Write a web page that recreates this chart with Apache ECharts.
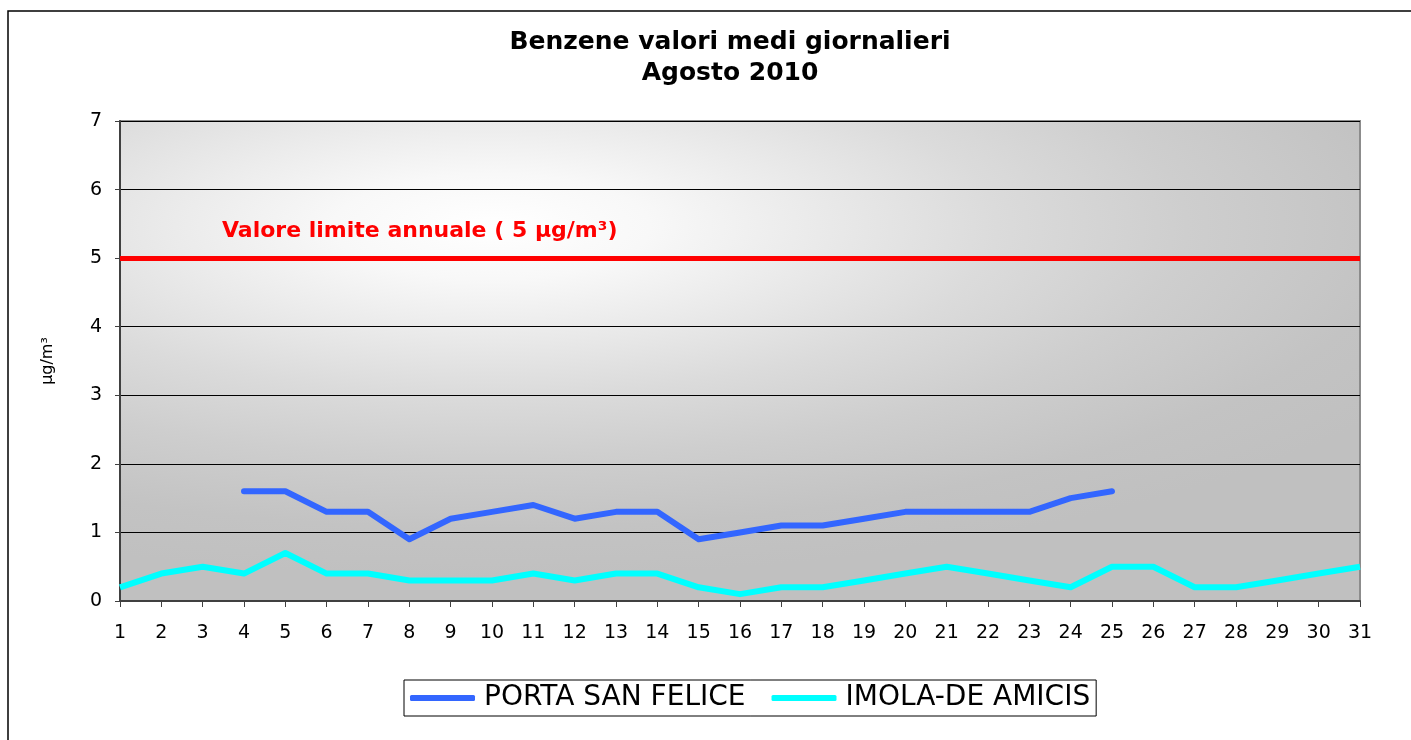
<!DOCTYPE html>
<html>
<head>
<meta charset="utf-8">
<script src="https://cdn.jsdelivr.net/npm/echarts@6/dist/echarts.min.js"></script>
<style>
  html, body { margin: 0; padding: 0; background: #fff; }
  #chart { width: 1411px; height: 740px; }
</style>
</head>
<body>
<div id="chart"></div>
<script>
// giorni di agosto
const days = [];
for (var d = 1; d <= 31; d++) days.push(String(d));

// valori medi giornalieri (µg/m³)
const portaSanFelice = [null, null, null, 1.6, 1.6, 1.3, 1.3, 0.9, 1.2, 1.3, 1.4, 1.2, 1.3, 1.3, 0.9, 1.0,
  1.1, 1.1, 1.2, 1.3, 1.3, 1.3, 1.3, 1.5, 1.6, null, null, null, null, null, null];
const imolaDeAmicis = [0.2, 0.4, 0.5, 0.4, 0.7, 0.4, 0.4, 0.3, 0.3, 0.3, 0.4, 0.3, 0.4, 0.4, 0.2, 0.1,
  0.2, 0.2, 0.3, 0.4, 0.5, 0.4, 0.3, 0.2, 0.5, 0.5, 0.2, 0.2, 0.3, 0.4, 0.5];
const limiteAnnuale = 5;

const font = '"DejaVu Sans", Arial, sans-serif';

var chart = echarts.init(document.getElementById('chart'));

chart.setOption({
  animation: false,
  backgroundColor: '#fff',
  title: {
    text: 'Benzene valori medi giornalieri\nAgosto 2010',
    left: 725,
    top: 22,
    textAlign: 'center',
    textStyle: { fontFamily: font, fontSize: 25, fontWeight: 'bold', color: '#000', lineHeight: 31 }
  },
  grid: {
    left: 120, top: 121, right: 51, bottom: 139,
    show: true, borderColor: '#8c8c8c', borderWidth: 2, backgroundColor: 'transparent'
  },
  graphic: [
    {
      // sfondo area grafico
      type: 'rect', left: 120, top: 121, z: -10, scaleX: 3,
      shape: { x: 0, y: 0, width: 413, height: 480 },
      style: {
        fill: {
          type: 'radial', x: 0.3, y: 0.22, r: 0.85,
          colorStops: [
            { offset: 0, color: '#ffffff' },
            { offset: 0.15, color: '#f8f8f8' },
            { offset: 0.3, color: '#ebebeb' },
            { offset: 0.48, color: '#dbdbdb' },
            { offset: 0.66, color: '#cecece' },
            { offset: 0.86, color: '#c3c3c3' },
            { offset: 1, color: '#c0c0c0' }
          ]
        }
      }
    },
    {
      type: 'rect', z: -20,
      shape: { x: 8, y: 11, width: 1420, height: 760 },
      style: { fill: 'none', stroke: '#000', lineWidth: 1.5 }
    },
    {
      type: 'text', left: 222, top: 220,
      style: { text: 'Valore limite annuale ( 5 µg/m³)', fill: '#ff0000', font: 'bold 22px ' + font }
    }
  ],
  legend: {
    left: 404, top: 680,
    padding: [4, 6, 4, 6],
    itemGap: 26,
    itemWidth: 65, itemHeight: 6,
    icon: 'roundRect',
    borderColor: '#000', borderWidth: 1,
    textStyle: { fontFamily: font, fontSize: 28, color: '#000', padding: [0, 0, 0, 4] },
    data: ['PORTA SAN FELICE', 'IMOLA-DE AMICIS']
  },
  xAxis: {
    type: 'category',
    data: days,
    boundaryGap: false,
    axisLine: { lineStyle: { color: '#404040', width: 2 } },
    axisTick: { show: true, length: 6, lineStyle: { color: '#404040', width: 1 } },
    axisLabel: { fontFamily: font, fontSize: 19, color: '#000', margin: 23, interval: 0 },
    splitLine: { show: false }
  },
  yAxis: {
    type: 'value',
    min: 0, max: 7, interval: 1,
    name: 'µg/m³',
    nameLocation: 'middle',
    nameRotate: 90,
    nameGap: 64,
    nameTextStyle: { fontFamily: font, fontSize: 16, color: '#000' },
    axisLine: { show: true, lineStyle: { color: '#404040', width: 2 } },
    axisTick: { show: true, length: 5, lineStyle: { color: '#404040' } },
    axisLabel: { fontFamily: font, fontSize: 19, color: '#000', margin: 18 },
    splitLine: { lineStyle: { color: '#000', width: 1 } }
  },
  series: [
    {
      name: 'PORTA SAN FELICE',
      type: 'line',
      data: portaSanFelice,
      symbol: 'none',
      color: '#3366ff',
      lineStyle: { width: 6, color: '#3366ff', cap: 'round', join: 'round' },
      markLine: {
        silent: true,
        symbol: 'none',
        label: { show: false },
        lineStyle: { color: '#ff0000', width: 5, type: 'solid' },
        data: [{ yAxis: limiteAnnuale }]
      }
    },
    {
      name: 'IMOLA-DE AMICIS',
      type: 'line',
      data: imolaDeAmicis,
      symbol: 'none',
      color: '#00ffff',
      lineStyle: { width: 6, color: '#00ffff', join: 'round' }
    }
  ]
});
</script>
</body>
</html>
